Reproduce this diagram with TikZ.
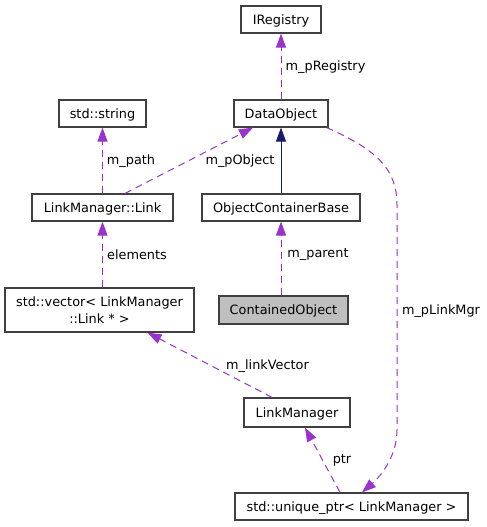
\documentclass[tikz,border=0pt]{standalone}
\usepackage{fontspec}
\setmainfont{DejaVu Sans}
\usetikzlibrary{arrows.meta}
\definecolor{edgepurple}{HTML}{9A32CD}
\definecolor{edgenavy}{HTML}{191970}
\definecolor{boxgray}{HTML}{404040}
\definecolor{boxfill}{HTML}{BFBFBF}
\begin{document}
\begin{tikzpicture}[x=1bp, y=-1bp,
  font=\fontsize{12.85bp}{17bp}\selectfont,
  cls/.style={draw=boxgray, line width=1.2bp, fill=white, minimum height=27bp, inner sep=0pt, text height=9.6bp, text depth=0bp},
  usage/.style={draw=edgepurple, line width=1bp, dash pattern=on 7bp off 5bp, -{Triangle[length=14bp,width=10bp]}},
  inherit/.style={draw=edgenavy, line width=1bp, -{Triangle[length=14bp,width=10bp]}},
  lbl/.style={inner sep=0pt}]
\useasboundingbox (0,0) rectangle (487,527);
\node[cls, minimum width=80bp] (iregistry) at (281,19.5){IRegistry};
\node[cls, minimum width=94bp] (dataobject) at (281,113.5){DataObject};
\node[cls, minimum width=87bp] (stdstring) at (102.5,113.5){std::string};
\node[cls, minimum width=141bp] (link) at (102.5,207.5){LinkManager::Link};
\node[cls, minimum width=158bp] (ocbase) at (281,207.5){ObjectContainerBase};
\node[draw=boxgray, line width=1.2bp, fill=white, minimum width=189bp, minimum height=44bp, inner sep=0pt, align=center] (vector) at (99.5,310){std::vector< LinkManager\\::Link * >};
\node[cls, fill=boxfill, minimum width=129bp, minimum height=28bp] (contained) at (283.5,310){ContainedObject};
\node[cls, minimum width=106bp, minimum height=29bp] (linkmgr) at (297,412.5){LinkManager};
\node[cls, minimum width=233bp] (uniqueptr) at (351.5,506.5){std::unique\_ptr< LinkManager >};
\draw[usage](dataobject) -- (iregistry);
\node[lbl] (lblregistry) at (325.5,67){m\_pRegistry};
\draw[usage](link) -- (stdstring);
\node[lbl] (lblpath) at (131,161){m\_path};
\draw[usage]([xshift=22.5bp]link.north) -- ([xshift=-28bp]dataobject.south);
\node[lbl] (lblobject) at (240,161){m\_pObject};
\draw[inherit](ocbase) -- (dataobject);
\draw[usage](vector.north -| link) -- (link);
\node[lbl] (lblelements) at (137,255){elements};
\draw[usage](contained.north -| ocbase) -- (ocbase);
\node[lbl] (lblparent) at (318,255){m\_parent};
\draw[usage]([xshift=-25bp]linkmgr.north) -- ([xshift=48bp]vector.south);
\node[lbl] (lblvector) at (267.5,366){m\_linkVector};
\draw[usage]([xshift=-11.5bp]uniqueptr.north) -- ([xshift=8bp]linkmgr.south);
\node[lbl] (lblptr) at (342,460){ptr};
\draw[usage]([xshift=-2bp]dataobject.south east) .. controls (378,150) and (397,170) .. (397,205) -- (397,430) .. controls (397,455) and (382,475) .. ([xshift=10.5bp]uniqueptr.north);
\node[lbl] (lbllinkmgr) at (441,311){m\_pLinkMgr};
\end{tikzpicture}
\end{document}
